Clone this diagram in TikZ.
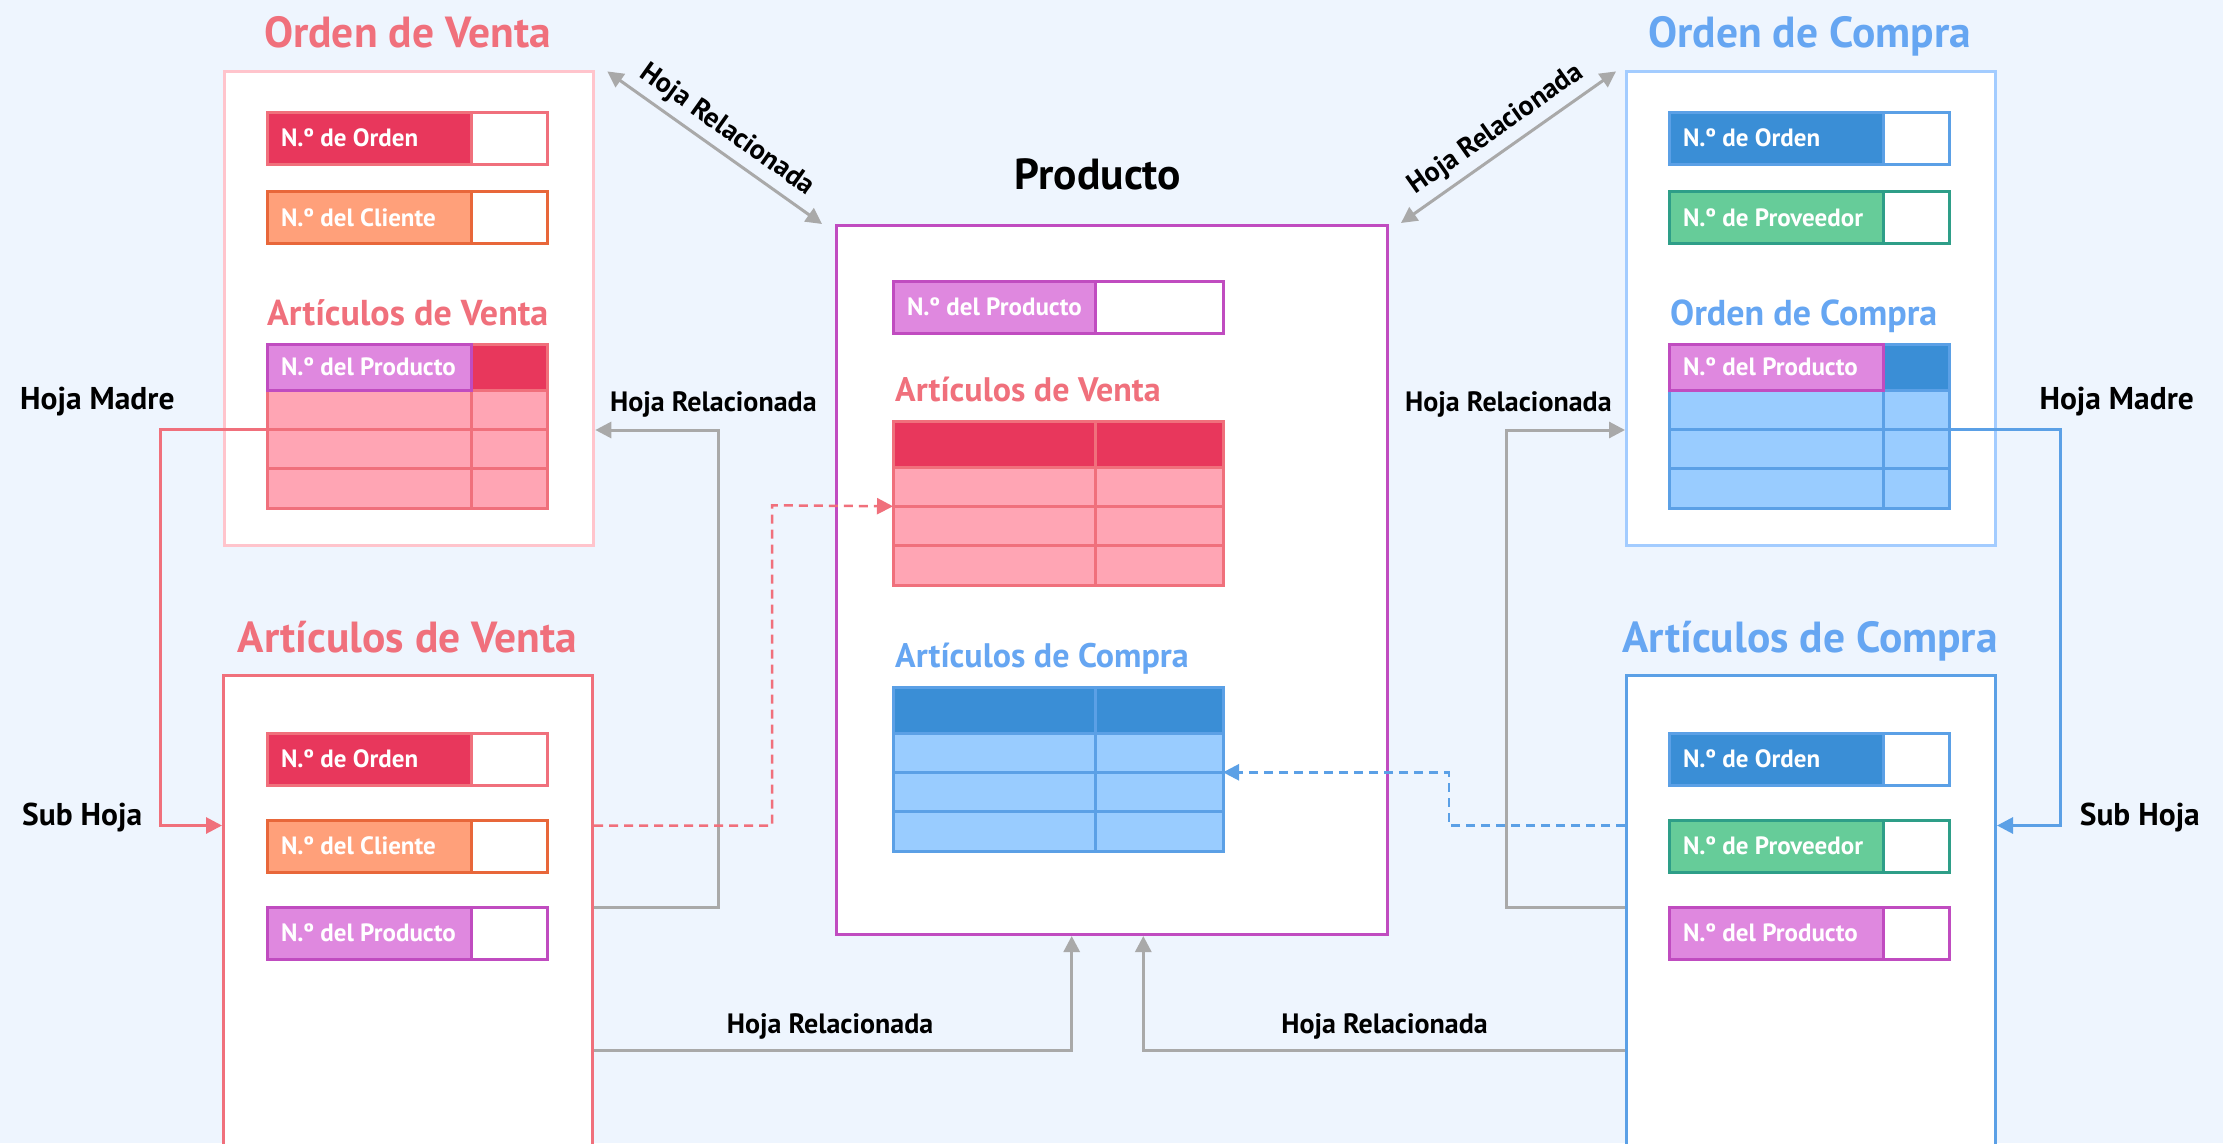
\documentclass[tikz,border=0pt]{standalone}
\usepackage{fontspec}
\setmainfont{PT Sans}
\usetikzlibrary{arrows.meta}
\definecolor{bg}{HTML}{EEF5FE}
\definecolor{rTitle}{HTML}{F0707C}
\definecolor{rLight}{HTML}{FFC4CC}
\definecolor{rDark}{HTML}{E8375C}
\definecolor{rRow}{HTML}{FFA5B4}
\definecolor{rLine}{HTML}{F0707C}
\definecolor{oFill}{HTML}{FFA07A}
\definecolor{oLine}{HTML}{E8673A}
\definecolor{pFill}{HTML}{DF88DF}
\definecolor{pLine}{HTML}{C04CC0}
\definecolor{bTitle}{HTML}{66A6F2}
\definecolor{bLight}{HTML}{A3CCFF}
\definecolor{bDark}{HTML}{3A8ED6}
\definecolor{bRow}{HTML}{99CCFF}
\definecolor{bLine}{HTML}{5BA0E6}
\definecolor{gFill}{HTML}{66CC99}
\definecolor{gLine}{HTML}{2E9E88}
\definecolor{conn}{HTML}{A9A9A9}
\newcommand\fTitle{\fontsize{43.5}{50}\selectfont\bfseries}
\newcommand\fSub{\fontsize{36}{42}\selectfont\bfseries}
\newcommand\fSubP{\fontsize{34}{40}\selectfont\bfseries}
\newcommand\fLab{\fontsize{28}{34}\selectfont\bfseries}
\newcommand\fLabB{\fontsize{31.5}{36}\selectfont\bfseries}
\newcommand\fFld{\fontsize{25}{30}\selectfont\bfseries}
\tikzset{
  sheet/.style={rectangle, fill=white, line width=3pt, inner sep=0pt, anchor=north west},
  ttl/.style={font=\fTitle, inner sep=0pt},
  subttl/.style={font=\fSub, inner sep=0pt, anchor=base west},
  subttlP/.style={font=\fSubP, inner sep=0pt, anchor=base west},
  lab/.style={font=\fLab, inner sep=0pt, text=black},
  labB/.style={font=\fLabB, inner sep=0pt, text=black},
  fldL/.style={rectangle, line width=3pt, outer sep=0pt, inner xsep=14pt, inner ysep=0pt,
    minimum height=52pt, text=white, font=\fFld},
  fldR/.style={rectangle, line width=3pt, outer sep=0pt, fill=white, minimum height=52pt, inner sep=0pt},
  rel/.style={draw=conn, line width=3pt, -{Triangle[length=16pt,width=16pt]}},
  reltwo/.style={draw=conn, line width=3pt, {Triangle[length=16pt,width=16pt]}-{Triangle[length=16pt,width=16pt]}},
  madreR/.style={draw=rLine, line width=3pt, -{Triangle[length=16pt,width=16pt]}},
  madreB/.style={draw=bLine, line width=3pt, -{Triangle[length=16pt,width=16pt]}},
  dashR/.style={draw=rLine, line width=2.5pt, dash pattern=on 9pt off 6pt, -{Triangle[length=16pt,width=16pt]}},
  dashB/.style={draw=bLine, line width=2.5pt, dash pattern=on 9pt off 6pt, -{Triangle[length=16pt,width=16pt]}},
}
\newcommand\fld[8]{%
  \pgfmathsetmacro\fldtw{#4-28}%
  \node[fldL, fill=#6, draw=#7, anchor=north west] (#1) at (#2,#3) {\makebox[\fldtw pt][l]{#8}};
  \node[fldR, draw=#7, minimum width=#5pt, anchor=north west] (#1r) at (#1.north east) {};
}
\newcommand\tbl[8]{%
  \pgfmathsetmacro\tbX{#2+#4}\pgfmathsetmacro\tbR{#2+#4+#5}%
  \pgfmathsetmacro\tbYa{#3+46}\pgfmathsetmacro\tbYb{#3+85.3}%
  \pgfmathsetmacro\tbYc{#3+124.7}\pgfmathsetmacro\tbYd{#3+164}%
  \fill[#7] (#2,\tbYa) rectangle (\tbR,\tbYd);
  \fill[#6] (#2,#3) rectangle (\tbR,\tbYa);
  \draw[#8, line width=3pt] (#2,\tbYa) -- (\tbR,\tbYa) (#2,\tbYb) -- (\tbR,\tbYb)
     (#2,\tbYc) -- (\tbR,\tbYc) (\tbX,#3) -- (\tbX,\tbYd);
  \draw[#8, line width=3pt] (#2,#3) rectangle (\tbR,\tbYd);
  \coordinate (#1-l1) at (#2,\tbYb);
  \coordinate (#1-r1) at (\tbR,\tbYb);
}
\begin{document}
\begin{tikzpicture}[x=1pt,y=-1pt]
\useasboundingbox (0,0) rectangle (2223,1143);
\clip (0,0) rectangle (2223,1143);
\fill[bg] (0,0) rectangle (2223,1143);

% ---------- Orden de Venta ----------
\node[ttl, text=rTitle, anchor=base] (ovT) at (407.5,47) {Orden de Venta};
\node[sheet, draw=rLight, minimum width=369.6pt, minimum height=474pt] (ov) at (222.7,70.4) {};
\fld{ov1}{267}{112}{204}{76}{rDark}{rLine}{N.º de Orden}
\fld{ov2}{267}{191.5}{204}{76}{oFill}{oLine}{N.º del Cliente}
\node[subttl, text=rTitle] (ovS) at (267,325) {Artículos de Venta};
\tbl{ovt}{267}{344}{204}{76}{rDark}{rRow}{rLine}
\node[fldL, fill=pFill, draw=pLine, minimum height=46pt, anchor=north west] (ovh) at (267,344) {\makebox[176pt][l]{N.º del Producto}};

% ---------- Articulos de Venta ----------
\node[ttl, text=rTitle, anchor=base] (avT) at (407.5,652) {Artículos de Venta};
\node[sheet, draw=rLine, minimum width=369pt, minimum height=520pt] (av) at (222,674) {};
\fld{av1}{267}{733}{204}{76}{rDark}{rLine}{N.º de Orden}
\fld{av2}{267}{820}{204}{76}{oFill}{oLine}{N.º del Cliente}
\fld{av3}{267}{907}{204}{76}{pFill}{pLine}{N.º del Producto}

% ---------- Producto ----------
\node[ttl, text=black, anchor=base] (prT) at (1098,189) {Producto};
\node[sheet, draw=pLine, minimum width=551pt, minimum height=709pt] (prod) at (835,224) {};
\fld{pf}{893}{281}{202}{128}{pFill}{pLine}{N.º del Producto}
\node[subttlP, text=rTitle] (pvS) at (895,401) {Artículos de Venta};
\tbl{pv}{893}{421}{202}{128}{rDark}{rRow}{rLine}
\node[subttlP, text=bTitle] (pcS) at (895,667.7) {Artículos de Compra};
\tbl{pc}{893}{687}{202}{128}{bDark}{bRow}{bLine}

% ---------- Orden de Compra ----------
\node[ttl, text=bTitle, anchor=base] (ocT) at (1809.5,47) {Orden de Compra};
\node[sheet, draw=bLight, minimum width=369pt, minimum height=474pt] (oc) at (1625,70.4) {};
\fld{oc1}{1669}{112}{214}{66}{bDark}{bLine}{N.º de Orden}
\fld{oc2}{1669}{191.5}{214}{66}{gFill}{gLine}{N.º de Proveedor}
\node[subttl, text=bTitle] (ocS) at (1670,325) {Orden de Compra};
\tbl{oct}{1669}{344}{214}{66}{bDark}{bRow}{bLine}
\node[fldL, fill=pFill, draw=pLine, minimum height=46pt, anchor=north west] (och) at (1669,344) {\makebox[186pt][l]{N.º del Producto}};

% ---------- Articulos de Compra ----------
\node[ttl, text=bTitle, anchor=base] (acT) at (1810,652) {Artículos de Compra};
\node[sheet, draw=bLine, minimum width=369pt, minimum height=520pt] (ac) at (1625,674) {};
\fld{ac1}{1669}{733}{214}{66}{bDark}{bLine}{N.º de Orden}
\fld{ac2}{1669}{820}{214}{66}{gFill}{gLine}{N.º de Proveedor}
\fld{ac3}{1669}{907}{214}{66}{pFill}{pLine}{N.º del Producto}

% ---------- labels ----------
\node[labB, anchor=base west] (lHM) at (20,409.7) {Hoja Madre};
\node[labB, anchor=base west] (lSH) at (22,825) {Sub Hoja};
\node[lab, anchor=base west] (lHR1) at (610,411.7) {Hoja Relacionada};
\node[lab, anchor=base west] (lHR2) at (1405,411.7) {Hoja Relacionada};
\node[labB, anchor=base east] (rHM) at (2194,409.7) {Hoja Madre};
\node[labB, anchor=base east] (rSH) at (2200,825) {Sub Hoja};
\node[lab, anchor=base] (bHR1) at (830,1033) {Hoja Relacionada};
\node[lab, anchor=base] (bHR2) at (1384.5,1033) {Hoja Relacionada};

% ---------- connectors ----------
\draw[madreR] (ovt-l1) -| (160,825.5) -- (av.west |- 0,825.5);
\draw[madreB] (oct-r1) -| (2060,825.5) -- (ac.east |- 0,825.5);
\draw[rel] (av.east |- 0,907.4) -| (718.7,430) -- (ov.east |- 0,430);
\draw[rel] (ac.west |- 0,907.4) -| (1506.6,430) -- (oc.west |- 0,430);
\draw[dashR] (av.east |- 0,825.5) -| (772,505.3) -- (pv-l1);
\draw[dashB] (ac.west |- 0,825.5) -| (1449,772.3) -- (pc-r1);
\draw[rel] (av.east |- 0,1050.6) -| (1071.7,0 |- prod.south);
\draw[rel] (ac.west |- 0,1050.6) -| (1143.3,0 |- prod.south);
\draw[reltwo] ([shift={(12,1)}]ov.north east) -- node[lab, midway, sloped, above=7pt] (dHR1) {Hoja Relacionada} ([shift={(-13,0)}]prod.north west);
\draw[reltwo] ([shift={(12,-1)}]prod.north east) -- node[lab, midway, sloped, above=7pt] (dHR2) {Hoja Relacionada} ([shift={(-9,1)}]oc.north west);
\end{tikzpicture}
\end{document}
